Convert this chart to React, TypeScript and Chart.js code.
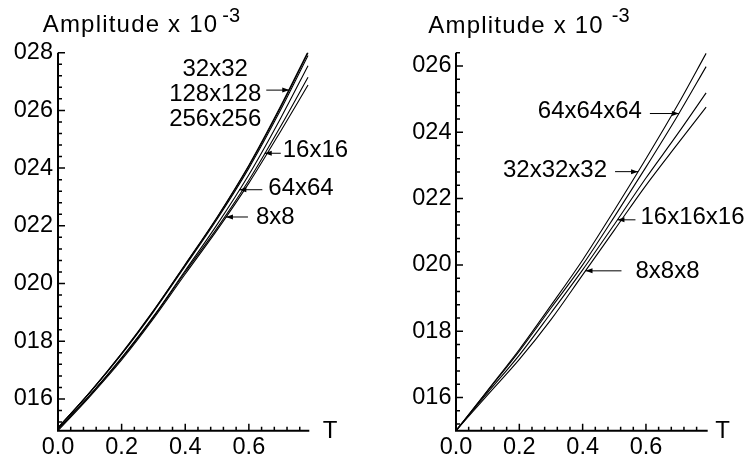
import React, { useEffect, useRef } from "react";
import { Chart, registerables } from "chart.js";

Chart.register(...registerables);

const FONT = "'Liberation Sans', Arial, Helvetica, sans-serif";

// ---------- data: left panel (2D grids) ----------
const leftT = [0, 0.1, 0.2, 0.3, 0.4, 0.5, 0.6, 0.7, 0.786];
const left8x8 = [0.0149, 0.01608, 0.01735, 0.01878, 0.02033, 0.02185, 0.02348, 0.02528, 0.02688];
const left16x16 = [0.01495, 0.01612, 0.0174, 0.01883, 0.0204, 0.02192, 0.02358, 0.02545, 0.02715];
const left32x32 = [0.015, 0.01622, 0.01755, 0.01902, 0.02061, 0.02223, 0.024, 0.02602, 0.0279];
const left64x64 = [0.01495, 0.01613, 0.01743, 0.01886, 0.02045, 0.02204, 0.02377, 0.02573, 0.02755];
const left128x128 = [0.015, 0.01623, 0.01757, 0.01905, 0.02065, 0.02228, 0.02407, 0.02611, 0.028];
const left256x256 = [0.015, 0.01623, 0.01758, 0.01906, 0.02067, 0.0223, 0.0241, 0.02615, 0.02804];

// ---------- data: right panel (3D grids) ----------
const rightT = [0, 0.1, 0.2, 0.3, 0.4, 0.5, 0.6, 0.7, 0.79];
const right8x8x8 = [0.015, 0.01608, 0.01715, 0.01835, 0.0197, 0.02105, 0.0224, 0.02365, 0.02476];
const right16x16x16 = [0.015, 0.01615, 0.01728, 0.01855, 0.01985, 0.02122, 0.02262, 0.02395, 0.02519];
const right32x32x32 = [0.015, 0.01622, 0.01745, 0.01878, 0.02015, 0.02165, 0.0232, 0.02482, 0.02638];
const right64x64x64 = [0.015, 0.0162, 0.0174, 0.0187, 0.02, 0.02145, 0.02295, 0.0245, 0.02598];

// ---------- ticks ----------
const xTicks = [0, 0.2, 0.4, 0.6];
const leftYTicks = [0.016, 0.018, 0.02, 0.022, 0.024, 0.026, 0.028];
const rightYTicks = [0.016, 0.018, 0.02, 0.022, 0.024, 0.026];

const yLabel = (v: number) => String(Math.round(v * 1000)).padStart(3, "0");
const xLabel = (v: number) => Number(v).toFixed(1);

type Note = {
  lines: string[];
  series: string;
  tipT: number;
  dir: "fromLeft" | "fromRight";
  len: number;
  gap: number;
  dy: number;
  lineGap?: number;
  mid?: number;
};

const leftNotes: Note[] = [
  { lines: ["32x32", "128x128", "256x256"], series: "128x128", tipT: 0.727, dir: "fromLeft", len: 23, gap: 5, dy: 4, lineGap: 25, mid: 1 },
  { lines: ["16x16"], series: "16x16", tipT: 0.65, dir: "fromRight", len: 16, gap: 2, dy: -2.5 },
  { lines: ["64x64"], series: "64x64", tipT: 0.57, dir: "fromRight", len: 23, gap: 6, dy: -1 },
  { lines: ["8x8"], series: "8x8", tipT: 0.528, dir: "fromRight", len: 22, gap: 8, dy: 0 },
];

const rightNotes: Note[] = [
  { lines: ["64x64x64"], series: "64x64x64", tipT: 0.704, dir: "fromLeft", len: 29, gap: 8, dy: -2 },
  { lines: ["32x32x32"], series: "32x32x32", tipT: 0.575, dir: "fromLeft", len: 23, gap: 8, dy: -1 },
  { lines: ["16x16x16"], series: "16x16x16", tipT: 0.51, dir: "fromRight", len: 18, gap: 5, dy: -2 },
  { lines: ["8x8x8"], series: "8x8x8", tipT: 0.409, dir: "fromRight", len: 36, gap: 14, dy: 1 },
];

type Panel = {
  width: number;
  left: number;
  T: number[];
  series: { name: string; values: number[] }[];
  xMax: number;
  yMin: number;
  yMax: number;
  yTicks: number[];
  yMinorStart: number;
  yAxisWidth: number;
  rightPad: number;
  yLabelPad: number;
  notes: Note[];
  titleX: number;
  titleBase: number;
  supGap: number;
  tX: number;
};

const panels: Panel[] = [
  {
    width: 370,
    left: 0,
    T: leftT,
    series: [
      { name: "8x8", values: left8x8 },
      { name: "16x16", values: left16x16 },
      { name: "32x32", values: left32x32 },
      { name: "64x64", values: left64x64 },
      { name: "128x128", values: left128x128 },
      { name: "256x256", values: left256x256 },
    ],
    xMax: 0.79,
    yMin: 0.0149,
    yMax: 0.028,
    yTicks: leftYTicks,
    yMinorStart: 0.0152,
    yAxisWidth: 58,
    rightPad: 60.7,
    yLabelPad: 5,
    notes: leftNotes,
    titleX: 42.7,
    titleBase: 31.7,
    supGap: 4,
    tX: 330,
  },
  {
    width: 379,
    left: 370,
    T: rightT,
    series: [
      { name: "8x8x8", values: right8x8x8 },
      { name: "16x16x16", values: right16x16x16 },
      { name: "32x32x32", values: right32x32x32 },
      { name: "64x64x64", values: right64x64x64 },
    ],
    xMax: 0.795,
    yMin: 0.015,
    yMax: 0.0264,
    yTicks: rightYTicks,
    yMinorStart: 0.0152,
    yAxisWidth: 86,
    rightPad: 41.3,
    yLabelPad: 4.5,
    notes: rightNotes,
    titleX: 58.3,
    titleBase: 33,
    supGap: 8,
    tX: 352.5,
  },
];

function interp(T: number[], vals: number[], t: number) {
  for (let i = 0; i < T.length - 1; i++) {
    if (t >= T[i] && t <= T[i + 1]) {
      const f = (t - T[i]) / (T[i + 1] - T[i]);
      return vals[i] + f * (vals[i + 1] - vals[i]);
    }
  }
  return vals[vals.length - 1];
}

function makePlugin(p: Panel) {
  return {
    id: "panelDecor",
    afterDraw(chart: any) {
      const ctx: any = chart.ctx;
      const xs = chart.scales.x;
      const ys = chart.scales.y;
      const { left, right, top, bottom } = chart.chartArea;
      ctx.save();
      ctx.strokeStyle = "#000";
      ctx.fillStyle = "#000";

      // axis lines
      ctx.lineWidth = 2;
      ctx.beginPath();
      ctx.moveTo(left, top);
      ctx.lineTo(left, bottom);
      ctx.lineTo(right, bottom);
      ctx.stroke();

      // ticks (inward)
      ctx.lineWidth = 1.5;
      ctx.beginPath();
      for (const v of p.yTicks) {
        const y = ys.getPixelForValue(v);
        ctx.moveTo(left, y);
        ctx.lineTo(left + 7, y);
      }
      for (let k = 0; ; k++) {
        const v = p.yMinorStart + k * 0.0004;
        if (v > p.yMax + 1e-9) break;
        if (p.yTicks.some((m) => Math.abs(m - v) < 1e-7)) continue;
        const y = ys.getPixelForValue(v);
        ctx.moveTo(left, y);
        ctx.lineTo(left + 4, y);
      }
      for (const v of xTicks) {
        const x = xs.getPixelForValue(v);
        ctx.moveTo(x, bottom);
        ctx.lineTo(x, bottom - 7);
      }
      for (let k = 0; ; k++) {
        const v = k * 0.04;
        if (v > p.xMax + 1e-9) break;
        if (xTicks.some((m) => Math.abs(m - v) < 1e-7)) continue;
        const x = xs.getPixelForValue(v);
        ctx.moveTo(x, bottom);
        ctx.lineTo(x, bottom - 4);
      }
      ctx.stroke();

      // title
      ctx.font = `24px ${FONT}`;
      ctx.textAlign = "left";
      ctx.textBaseline = "alphabetic";
      if ("letterSpacing" in ctx) ctx.letterSpacing = "1.2px";
      const main = "Amplitude x 10";
      ctx.fillText(main, p.titleX, p.titleBase);
      const w = ctx.measureText(main).width;
      if ("letterSpacing" in ctx) ctx.letterSpacing = "0px";
      ctx.font = `20px ${FONT}`;
      ctx.fillText("-3", p.titleX + w + p.supGap, 21.7);

      // axis title T
      ctx.font = `24px ${FONT}`;
      ctx.textAlign = "center";
      ctx.fillText("T", p.tX, 438.3);

      // annotations
      ctx.font = `24px ${FONT}`;
      ctx.textBaseline = "middle";
      ctx.lineWidth = 1;
      for (const n of p.notes) {
        const s = p.series.find((q) => q.name === n.series)!;
        const val = interp(p.T, s.values, n.tipT);
        const tx = xs.getPixelForValue(n.tipT);
        const ty = ys.getPixelForValue(val);
        const sign = n.dir === "fromLeft" ? -1 : 1;
        const sx = tx + sign * n.len;
        ctx.beginPath();
        ctx.moveTo(sx, ty);
        ctx.lineTo(tx, ty);
        ctx.stroke();
        ctx.beginPath();
        ctx.moveTo(tx, ty);
        ctx.lineTo(tx + sign * 7, ty - 2.5);
        ctx.lineTo(tx + sign * 7, ty + 2.5);
        ctx.closePath();
        ctx.fill();
        const widths = n.lines.map((l) => ctx.measureText(l).width);
        const maxW = Math.max(...widths);
        const mid = n.mid ?? 0;
        const lg = n.lineGap ?? 25;
        if (n.dir === "fromLeft") {
          const cx = sx - n.gap - maxW / 2;
          ctx.textAlign = "center";
          n.lines.forEach((l, i) => ctx.fillText(l, cx, ty + n.dy + (i - mid) * lg));
        } else {
          ctx.textAlign = "left";
          n.lines.forEach((l, i) => ctx.fillText(l, sx + n.gap, ty + n.dy + (i - mid) * lg));
        }
      }
      ctx.restore();
    },
  };
}

function PanelChart({ p }: { p: Panel }) {
  const ref = useRef<HTMLCanvasElement | null>(null);
  useEffect(() => {
    if (!ref.current) return;
    const chart = new Chart(ref.current, {
      type: "line",
      data: {
        datasets: p.series.map((s) => ({
          label: s.name,
          data: p.T.map((t, i) => ({ x: t, y: s.values[i] })),
          borderColor: "#000",
          borderWidth: 1.1,
          pointRadius: 0,
          fill: false,
          cubicInterpolationMode: "monotone" as const,
        })),
      },
      options: {
        responsive: false,
        animation: false,
        devicePixelRatio: 1,
        layout: { padding: { left: 0, top: 52.7, right: p.rightPad, bottom: 0 } },
        plugins: { legend: { display: false }, tooltip: { enabled: false }, title: { display: false } },
        scales: {
          x: {
            type: "linear",
            min: 0,
            max: p.xMax,
            afterBuildTicks: (s: any) => {
              s.ticks = xTicks.map((v) => ({ value: v }));
            },
            afterFit: (s: any) => {
              s.height = 29.3;
            },
            grid: { display: false, drawTicks: false },
            border: { display: false },
            ticks: {
              padding: 3,
              color: "#000",
              font: { family: FONT, size: 23.5 },
              maxRotation: 0,
              autoSkip: false,
              callback: (v: any) => xLabel(Number(v)),
            },
          },
          y: {
            type: "linear",
            min: p.yMin,
            max: p.yMax,
            afterBuildTicks: (s: any) => {
              s.ticks = p.yTicks.map((v) => ({ value: v }));
            },
            afterFit: (s: any) => {
              s.width = p.yAxisWidth;
            },
            grid: { display: false, drawTicks: false },
            border: { display: false },
            ticks: {
              padding: p.yLabelPad,
              color: "#000",
              font: { family: FONT, size: 23.5 },
              autoSkip: false,
              callback: (v: any) => yLabel(Number(v)),
            },
          },
        },
      },
      plugins: [makePlugin(p)],
    } as any);
    return () => chart.destroy();
  }, [p]);
  return (
    <canvas
      ref={ref}
      width={p.width}
      height={460}
      style={{ position: "absolute", left: p.left, top: 0, width: p.width, height: 460 }}
    />
  );
}

export default function App() {
  return (
    <div style={{ position: "absolute", left: 0, top: 0, width: 749, height: 460, background: "#fff" }}>
      {panels.map((p, i) => (
        <PanelChart key={i} p={p} />
      ))}
    </div>
  );
}
